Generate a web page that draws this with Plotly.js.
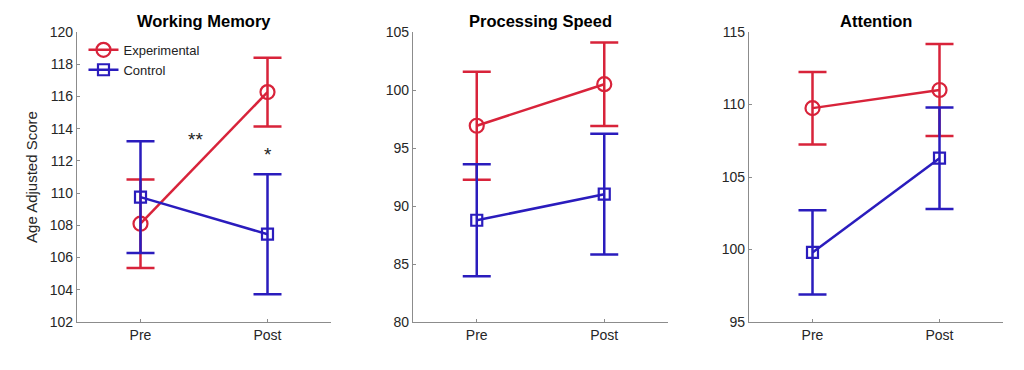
<!DOCTYPE html>
<html>
<head>
<meta charset="utf-8">
<script src="https://cdn.plot.ly/plotly-3.0.1.min.js"></script>
<style>html,body{margin:0;padding:0;background:#fff;}#chart{width:1024px;height:370px;}</style>
</head>
<body>
<div id="chart"></div>
<script>
const categories = ["Pre", "Post"];
const panelTitles = ["Working Memory", "Processing Speed", "Attention"];
const seriesNames = ["Experimental", "Control"];

// Working Memory
const wmExp = [108.1, 116.27];
const wmExpErr = [2.75, 2.13];
const wmCtrl = [109.75, 107.45];
const wmCtrlErr = [3.47, 3.72];

// Processing Speed
const psExp = [96.92, 100.5];
const psExpErr = [4.65, 3.6];
const psCtrl = [88.77, 91.02];
const psCtrlErr = [4.83, 5.2];

// Attention
const atExp = [109.75, 111.0];
const atExpErr = [2.5, 3.17];
const atCtrl = [99.8, 106.3];
const atCtrlErr = [2.9, 3.5];

const yRanges = [[102, 120], [80, 105], [95, 115]];
const yTicks = [[102,104,106,108,110,112,114,116,118,120],[80,85,90,95,100,105],[95,100,105,110,115]];

const RED = "#d8233a";
const BLUE = "#2a1cbd";
const FONT = "Liberation Sans, Arial, sans-serif";

function mk(y, err, name, color, symbol, idx, showleg) {
  const sfx = idx === 0 ? "" : String(idx + 1);
  return {
    type: "scatter", mode: "lines+markers",
    x: categories, y: y, name: name,
    xaxis: "x" + sfx, yaxis: "y" + sfx,
    showlegend: showleg,
    line: {color: color, width: 2.5},
    marker: {symbol: symbol, size: symbol === "circle-open" ? 14 : 11, color: color, line: {color: color, width: 2.2}},
    error_y: {type: "data", array: err, visible: true, color: color, thickness: 2.5, width: 14}
  };
}

const data = [
  mk(wmExp, wmExpErr, seriesNames[0], RED, "circle-open", 0, true),
  mk(wmCtrl, wmCtrlErr, seriesNames[1], BLUE, "square-open", 0, true),
  mk(psExp, psExpErr, seriesNames[0], RED, "circle-open", 1, false),
  mk(psCtrl, psCtrlErr, seriesNames[1], BLUE, "square-open", 1, false),
  mk(atExp, atExpErr, seriesNames[0], RED, "circle-open", 2, false),
  mk(atCtrl, atCtrlErr, seriesNames[1], BLUE, "square-open", 2, false)
];

const W = 1024, L = 77, R = 21;
const PW = W - L - R;
function dom(a, b) { return [(a - L) / PW, (b - L) / PW]; }
const xDomains = [dom(77, 331), dom(413, 668), dom(749, 1003)];

const layout = {
  width: 1024, height: 370,
  margin: {l: L, r: R, t: 32, b: 48},
  paper_bgcolor: "#fff", plot_bgcolor: "#fff",
  font: {family: FONT, size: 14, color: "#262626"},
  showlegend: true,
  legend: {x: 0.007, y: 0.99, xanchor: "left", yanchor: "top", bgcolor: "rgba(0,0,0,0)",
           font: {family: FONT, size: 13, color: "#222"}, tracegroupgap: 0, itemwidth: 30},
  annotations: []
};

for (let i = 0; i < 3; i++) {
  const sfx = i === 0 ? "" : String(i + 1);
  layout["xaxis" + sfx] = {
    domain: xDomains[i], anchor: "y" + sfx, type: "category",
    categoryorder: "array", categoryarray: categories,
    range: [-0.5, 1.5], showgrid: false, zeroline: false,
    showline: true, linecolor: "#8c8c8c", linewidth: 1.2,
    ticks: "inside", ticklen: 3, tickcolor: "#8c8c8c",
    tickfont: {family: FONT, size: 14, color: "#262626"}, fixedrange: true
  };
  layout["yaxis" + sfx] = {
    domain: [0, 1], anchor: "x" + sfx, range: yRanges[i],
    tickvals: yTicks[i], showgrid: false, zeroline: false,
    showline: true, linecolor: "#8c8c8c", linewidth: 1.2,
    ticks: "inside", ticklen: 3, tickcolor: "#8c8c8c",
    tickfont: {family: FONT, size: 14, color: "#262626"}, fixedrange: true
  };
  layout.annotations.push({
    text: "<b>" + panelTitles[i] + "</b>", xref: "x" + sfx + " domain", yref: "paper",
    x: 0.5, y: 1, yanchor: "bottom", yshift: 0, showarrow: false,
    font: {family: FONT, size: 16.5, color: "#000"}
  });
}
layout.yaxis.title = {text: "Age Adjusted Score", font: {family: FONT, size: 15, color: "#262626"}, standoff: 8};

layout.annotations.push({text: "**", x: 0.43, y: 113.5, xref: "x", yref: "y", showarrow: false,
  yanchor: "middle", yshift: -3, font: {family: FONT, size: 19, color: "#222"}});
layout.annotations.push({text: "*", x: 1.0, y: 112.55, xref: "x", yref: "y", showarrow: false,
  yanchor: "middle", yshift: -2, font: {family: FONT, size: 19, color: "#222"}});

Plotly.newPlot("chart", data, layout, {displayModeBar: false, staticPlot: true});
</script>
</body>
</html>
